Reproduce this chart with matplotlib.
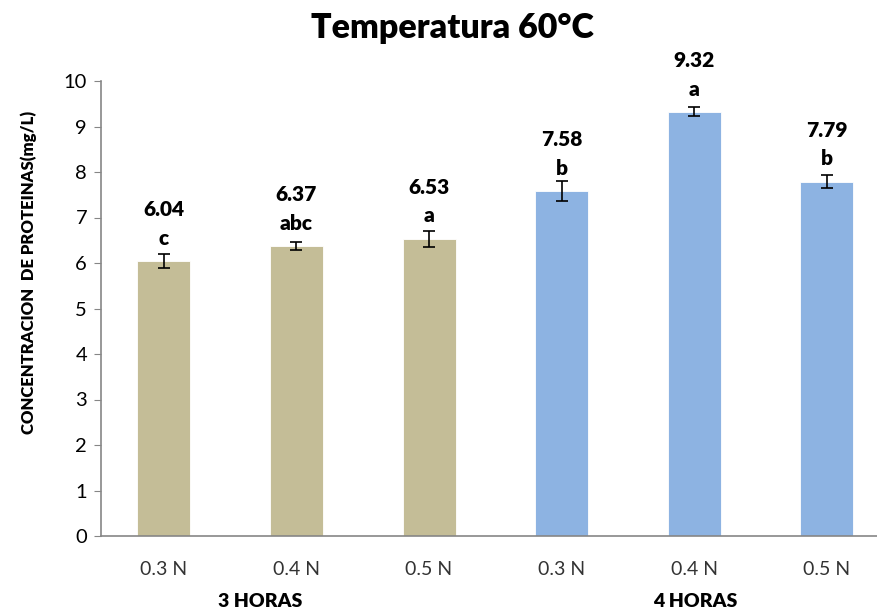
import matplotlib
matplotlib.use("Agg")
import matplotlib.pyplot as plt

# datos
concentraciones = ["0.3 N", "0.4 N", "0.5 N", "0.3 N", "0.4 N", "0.5 N"]
proteinas = [6.04, 6.37, 6.53, 7.58, 9.32, 7.79]
error = [0.15, 0.085, 0.18, 0.22, 0.10, 0.14]
letras = ["c", "abc", "a", "b", "a", "b"]
grupos = ["3 HORAS", "4 HORAS"]

plt.rcParams['font.family'] = ['Lato', 'DejaVu Sans']

colores = ['#C4BD97'] * 3 + ['#8DB3E2'] * 3

fig = plt.figure(figsize=(8.77, 6.12), dpi=100)
ax = fig.add_axes([101 / 877, 76 / 612, 776 / 877, 455 / 612])

x = list(range(len(proteinas)))
ax.bar(x, proteinas, width=0.4, color=colores, edgecolor='white', linewidth=0.6)
ax.errorbar(x, proteinas, yerr=error, fmt='none', ecolor='black',
            elinewidth=1.2, capsize=4, capthick=1.2)

# valores y letras encima de cada barra
for xi, v, l in zip(x, proteinas, letras):
    ax.annotate(f"{v:.2f}", (xi, v), xytext=(0, 37), textcoords='offset points',
                ha='center', va='center', fontsize=15, fontweight='heavy')
    ax.annotate(l, (xi, v), xytext=(0, 16.5), textcoords='offset points',
                ha='center', va='center', fontsize=15, fontweight='heavy')

ax.set_xlim(-0.475, 5.38)
ax.set_ylim(0, 10)
ax.set_yticks(range(0, 11))
ax.set_xticks(x)
ax.set_xticklabels(concentraciones, fontsize=14, color='#333333')
ax.tick_params(axis='x', length=0, pad=18)
ax.tick_params(axis='y', length=5, color='#868686', labelsize=14.5, pad=5)

for s in ['top', 'right']:
    ax.spines[s].set_visible(False)
for s in ['left', 'bottom']:
    ax.spines[s].set_color('#868686')
    ax.spines[s].set_linewidth(1.2)

# etiquetas de grupo
ax.text(0.725, -0.143, grupos[0], transform=ax.get_xaxis_transform(),
        ha='center', va='center', fontsize=14, fontweight='heavy')
ax.text(4.01, -0.143, grupos[1], transform=ax.get_xaxis_transform(),
        ha='center', va='center', fontsize=14, fontweight='heavy')

fig.text(0.516, 0.954, "Temperatura 60°C", ha='center', va='center',
         fontsize=24.5, fontweight='heavy')
fig.text(0.033, 0.555, "CONCENTRACION  DE PROTEINAS(mg/L)", rotation=90,
         ha='center', va='center', fontsize=12, fontweight='heavy')

fig.savefig("out.png", dpi=100)
